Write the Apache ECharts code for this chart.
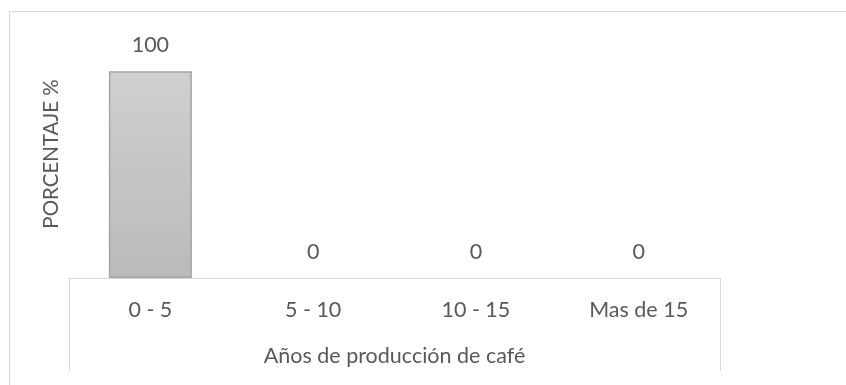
<!DOCTYPE html>
<html>
<head>
<meta charset="utf-8">
<script src="https://cdn.jsdelivr.net/npm/echarts@6/dist/echarts.min.js"></script>
<style>
  html, body { margin: 0; padding: 0; background: #ffffff; }
  #chart { width: 846px; height: 385px; }
</style>
</head>
<body>
<div id="chart"></div>
<script>
// Años de producción de café: share of producers per range
const categories = ['0 - 5', '5 - 10', '10 - 15', 'Mas de 15'];
const porcentaje = [100, 0, 0, 0];

const xAxisName = 'Años de producción de café';
const yAxisName = 'PORCENTAJE %';

const FONT = 'Lato';
const TEXT = '#595959';
const LINE = '#d9d9d9';
const FS = 21.5;

// plot area
const G = { left: 69, right: 126, top: 30, bottom: 107 };
const W = 846, H = 385;
const axisY = H - G.bottom;

const chart = echarts.init(document.getElementById('chart'), null, { renderer: 'canvas' });

// empty bars get no outline so that only their value label remains
const barData = porcentaje.map(v => ({
  value: v,
  itemStyle: { borderWidth: v === 0 ? 0 : 1.5 }
}));

chart.setOption({
  animation: false,
  backgroundColor: '#ffffff',
  textStyle: { fontFamily: FONT, color: TEXT },
  grid: { left: G.left, right: G.right, top: G.top, bottom: G.bottom, containLabel: false },
  xAxis: {
    type: 'category',
    data: categories,
    axisLine: { show: true, lineStyle: { color: LINE, width: 1 } },
    axisTick: { show: false },
    axisLabel: { margin: 21, fontSize: FS, fontFamily: FONT, color: TEXT },
    name: xAxisName,
    nameLocation: 'middle',
    nameGap: 67,
    nameTextStyle: { fontSize: FS, fontFamily: FONT, color: TEXT },
    splitLine: { show: false }
  },
  yAxis: {
    type: 'value',
    min: 0,
    max: 120,
    axisLine: { show: false },
    axisTick: { show: false },
    axisLabel: { show: false },
    splitLine: { show: false },
    name: yAxisName,
    nameLocation: 'middle',
    nameRotate: 90,
    nameGap: 7,
    nameTextStyle: { fontSize: 20.5, fontFamily: FONT, color: TEXT }
  },
  series: [{
    type: 'bar',
    data: barData,
    barWidth: '51%',
    itemStyle: {
      color: new echarts.graphic.LinearGradient(0, 0, 0, 1, [
        { offset: 0, color: '#d0d0d0' },
        { offset: 1, color: '#bababa' }
      ]),
      borderColor: '#a5a5a5'
    },
    label: {
      show: true,
      position: 'top',
      distance: 15,
      fontSize: FS,
      fontFamily: FONT,
      color: TEXT
    }
  }],
  graphic: [
    // chart frame
    {
      type: 'rect', silent: true,
      shape: { x: 9.5, y: 11.5, width: W + 20, height: H + 20 },
      style: { fill: null, stroke: LINE, lineWidth: 1 }
    },
    // category table sides
    {
      type: 'line', silent: true,
      shape: { x1: G.left + 0.5, y1: axisY, x2: G.left + 0.5, y2: 371 },
      style: { stroke: LINE, lineWidth: 1 }
    },
    {
      type: 'line', silent: true,
      shape: { x1: W - G.right + 0.5, y1: axisY, x2: W - G.right + 0.5, y2: 371 },
      style: { stroke: LINE, lineWidth: 1 }
    }
  ]
});
</script>
</body>
</html>
